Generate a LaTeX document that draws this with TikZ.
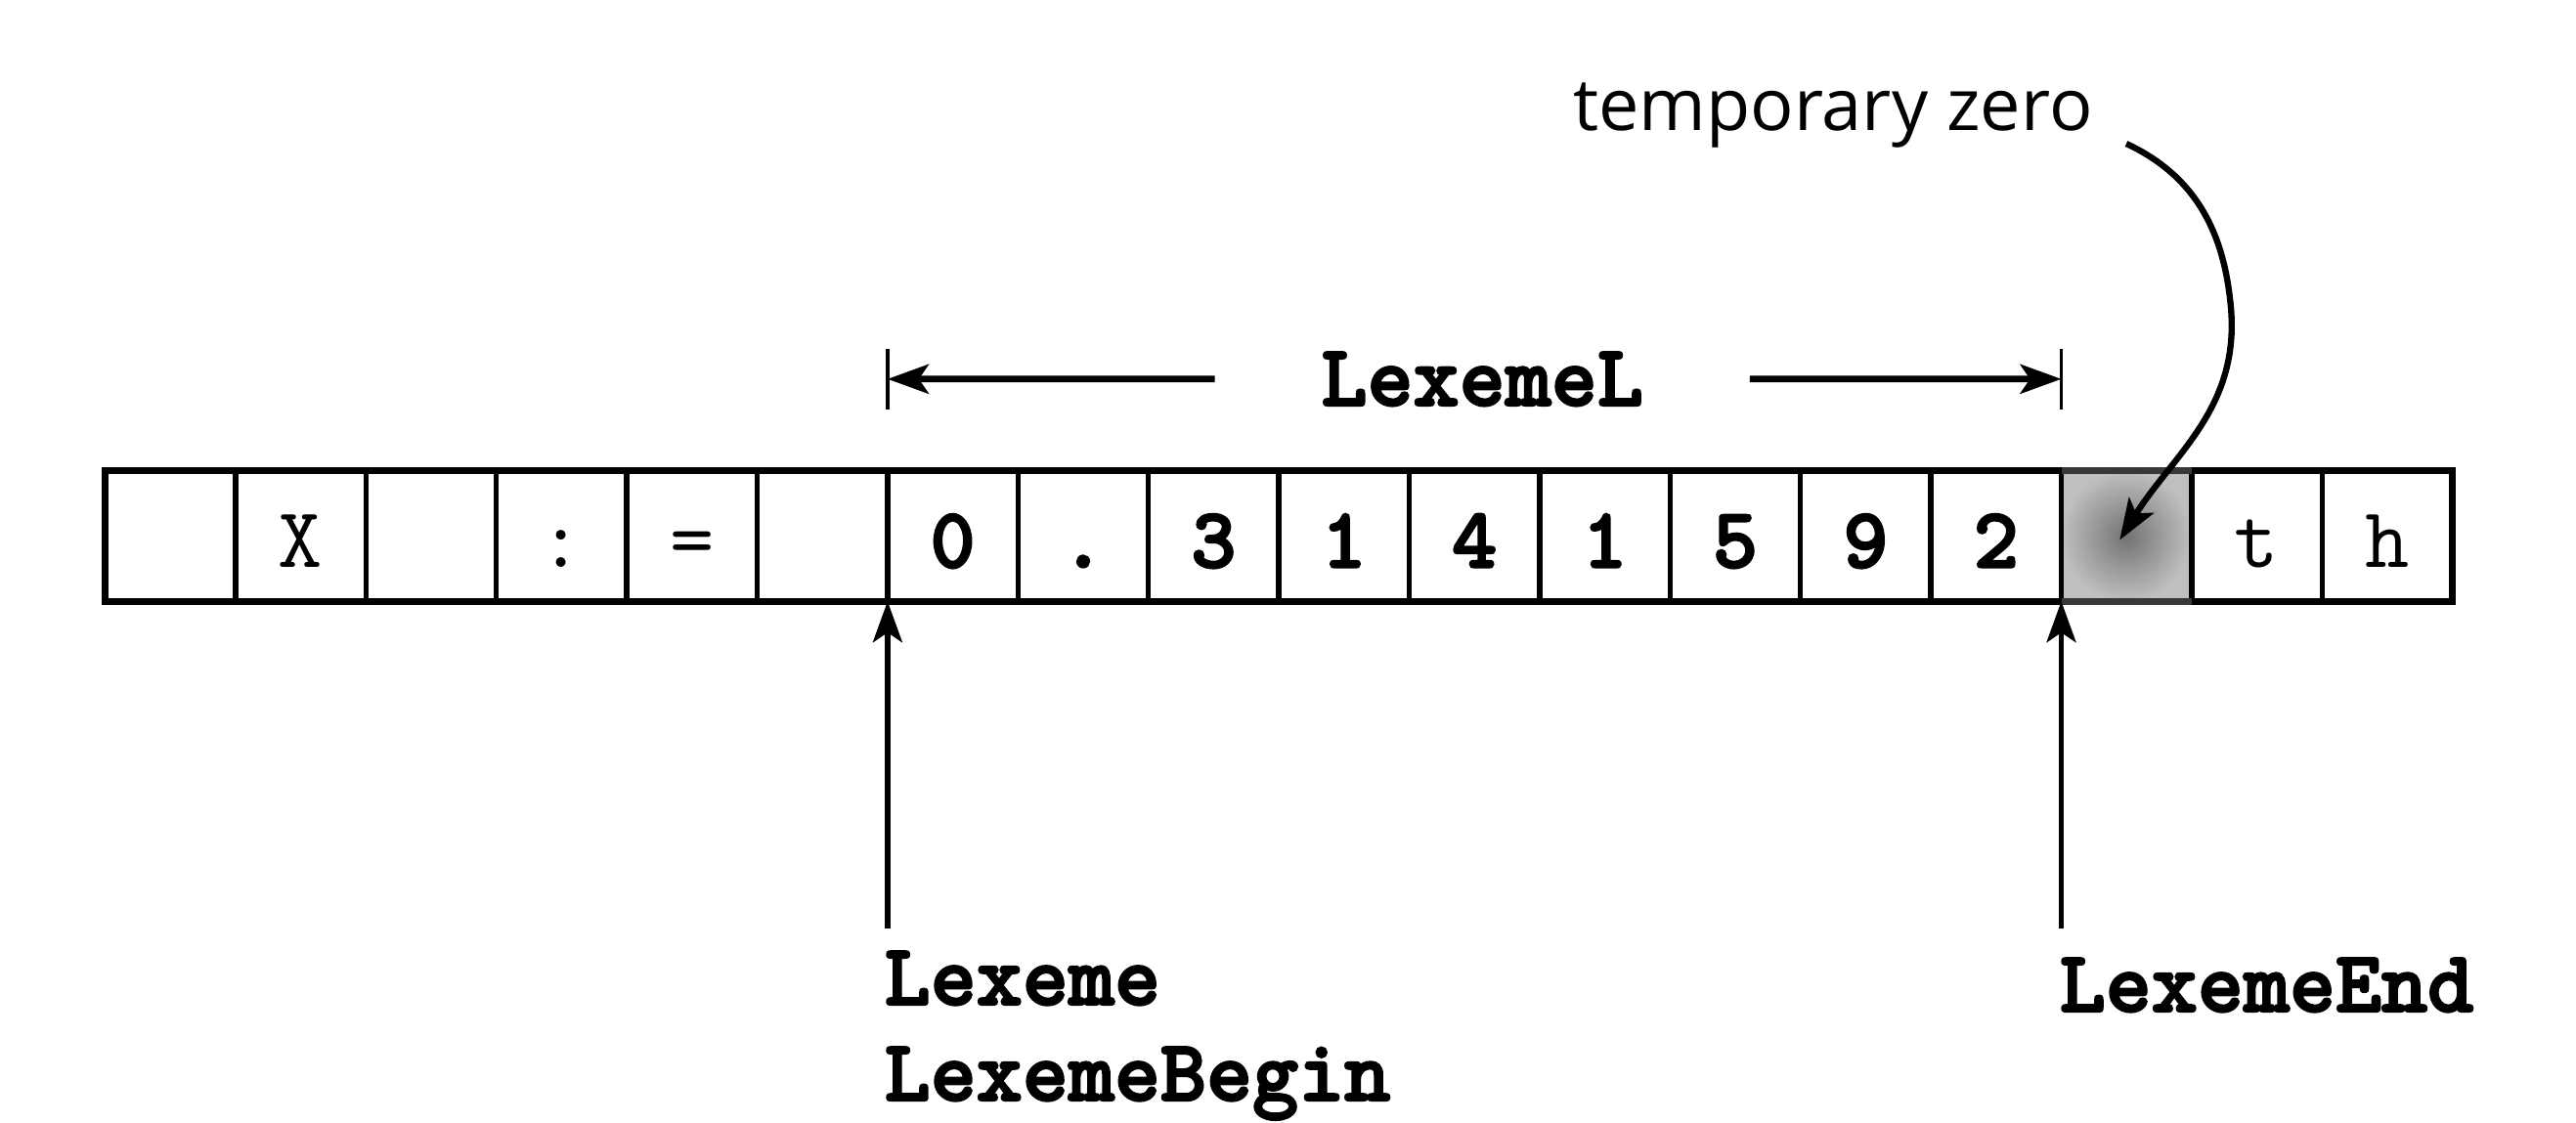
\documentclass[tikz,border=0pt]{standalone}
\usepackage{fontspec}
\newfontfamily\notefont{Open Sans}
\newfontfamily\boldmono{lmmonolt10-bold}[Extension=.otf,FakeBold=2.5]
\usetikzlibrary{positioning,arrows.meta,calc}
\tikzset{
  cellbox/.style={draw,line width=1.5pt,minimum size=1.334cm,inner sep=0pt,outer sep=0pt,
    text height=0.64cm,text depth=0cm,font=\ttfamily\fontsize{25}{25}\selectfont},
  ptr/.style={-{Stealth[length=0.42cm,width=0.3cm,inset=0.1cm]},line width=1.5pt},
  namebox/.style={inner sep=0pt,font=\boldmono\fontsize{25.5}{25.5}\selectfont}
}
\begin{document}
\begin{tikzpicture}
    \useasboundingbox (0,0) rectangle (26.35,-11.49);
    % buffer
    \foreach \ch [count=\i from 0] in {{},X,{},:,=,{},\boldmono 0,\boldmono .,\boldmono 3,\boldmono 1,\boldmono 4,\boldmono 1,\boldmono 5,\boldmono 9,\boldmono 2,{},t,h}
        \node[cellbox] (c\i) at ({1.075+1.334*(\i+0.5)},-5.485) {\ch};
    \shade[inner color=black!55,outer color=black!25] (c15.north west) rectangle (c15.south east);
    \draw[line width=1.5pt] (c15.south west) -- (c15.north west) (c15.south east) -- (c15.north east);
    \draw[line width=2pt] (c0.north west) rectangle (c17.south east);
    \draw[line width=2pt,black!78] (c15.north west) -- (c15.north east)
        (c15.south west) -- (c15.south east);
    % pointers
    \coordinate (beginfoot) at ([yshift=-3.35cm]c6.south west);
    \coordinate (endfoot) at ([yshift=-3.35cm]c15.south west);
    \draw[ptr] (beginfoot) -- (c6.south west);
    \draw[ptr] (endfoot) -- (c15.south west);
    \node[namebox,anchor=base west] (lexeme) at (9.04,-10.28) {Lexeme};
    \node[namebox,anchor=base west] (lexbegin) at (9.04,-11.26) {LexemeBegin};
    \node[namebox,anchor=base west] (lexend) at (21.06,-10.35) {LexemeEnd};
    % length
    \coordinate (dimL) at ([yshift=0.94cm]c6.north west);
    \coordinate (dimR) at ([yshift=0.94cm]c15.north west);
    \draw[line width=1.1pt] ([yshift=0.31cm]dimL) -- ([yshift=-0.31cm]dimL)
        ([yshift=0.31cm]dimR) -- ([yshift=-0.31cm]dimR);
    \node[namebox,inner xsep=1.09cm,outer sep=0pt] (lexlen) at ($(dimL)!0.5!(dimR)+(0.08,0)$) {LexemeL};
    \draw[ptr,line width=1.9pt] (lexlen.west) -- (dimL);
    \draw[ptr,line width=1.9pt] (lexlen.east) -- (dimR);
    % temporary zero
    \node[font=\notefont\fontsize{21}{21}\selectfont,anchor=base] (tmpzero) at (18.75,-1.34) {temporary zero};
    \coordinate (zerostart) at (21.75,-1.47);
    \draw[ptr,line width=1.8pt] (zerostart) to[out=-25,in=95] (22.82,-3.15)
        to[out=-85,in=58] ([shift={(-0.07,-0.04)}]c15.center);
\end{tikzpicture}
\end{document}
